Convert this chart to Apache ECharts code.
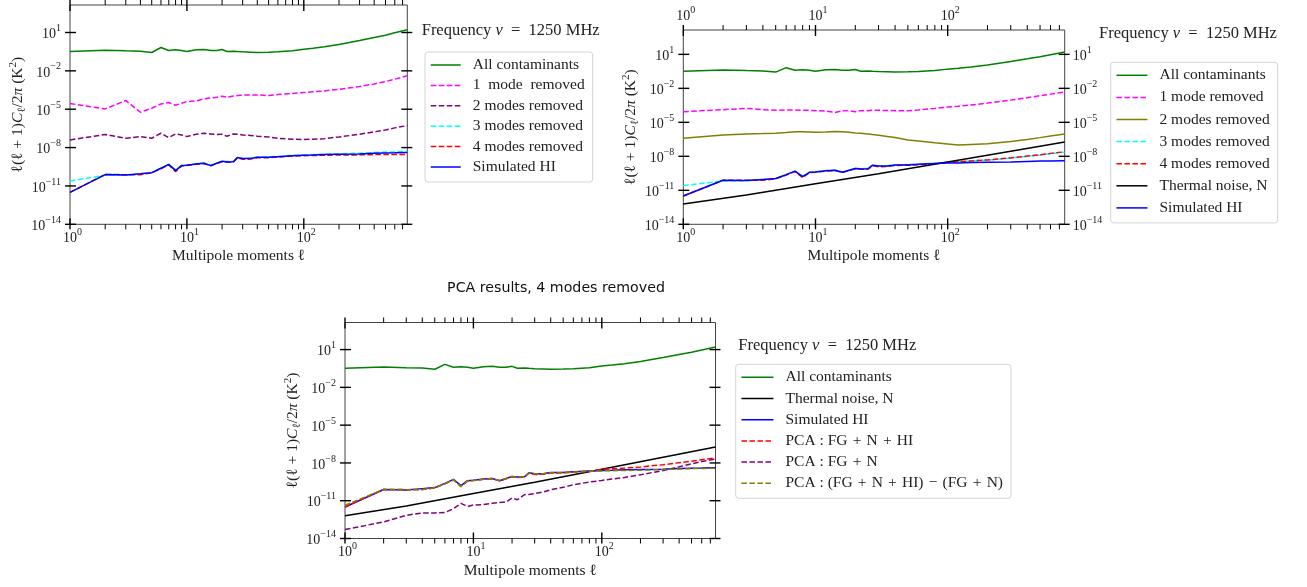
<!DOCTYPE html>
<html><head><meta charset="utf-8">
<script src="https://cdn.jsdelivr.net/npm/echarts@6/dist/echarts.min.js"></script>
<style>html,body{margin:0;padding:0;background:#fff}#c{width:1307px;height:587px}</style>
</head><body><div id="c"></div>
<script>
// ---------------- data ----------------
const ell = [1,2,3,4,5,6,7,8,9,10,12,14,16,18,20,22,25,27,30,35,40,50,60,80,100,120,150,200,300,400,500,600,768];

const allContaminants = [0.326,0.414,0.367,0.346,0.272,0.670,0.390,0.440,0.390,0.326,0.440,0.467,0.390,0.390,0.467,0.326,0.346,0.326,0.307,0.289,0.272,0.289,0.307,0.367,0.497,0.594,0.755,1.15,2.37,4.06,6.18,9.42,16.2];
const simulatedHI = [3.16e-12,7.76e-11,7.24e-11,9.12e-11,1.10e-10,2.40e-10,4.90e-10,1.58e-10,3.89e-10,4.17e-10,5.25e-10,5.89e-10,3.89e-10,5.89e-10,8.51e-10,7.59e-10,7.94e-10,1.66e-9,1.38e-9,1.38e-9,1.74e-9,1.74e-9,1.95e-9,2.34e-9,2.51e-9,2.63e-9,2.82e-9,3.02e-9,3.16e-9,3.55e-9,3.80e-9,3.89e-9,4.07e-9];

// panel 1 (no noise)
const mode1NoNoise = [2.77e-5,1.06e-5,4.76e-5,5.82e-6,1.20e-5,2.61e-5,3.32e-5,2.06e-5,2.94e-5,3.98e-5,4.47e-5,6.46e-5,7.76e-5,8.71e-5,1.05e-4,8.71e-5,1.10e-4,1.17e-4,1.26e-4,1.32e-4,1.32e-4,1.17e-4,1.41e-4,1.70e-4,2.00e-4,2.29e-4,2.69e-4,3.63e-4,5.89e-4,9.55e-4,1.45e-3,2.24e-3,4.07e-3];
const mode2NoNoise = [3.98e-8,1.05e-7,5.37e-8,7.24e-8,5.37e-8,1.32e-7,6.03e-8,1.17e-7,9.77e-8,7.24e-8,1.10e-7,1.32e-7,1.17e-7,1.05e-7,1.10e-7,7.76e-8,1.17e-7,1.10e-7,9.77e-8,8.71e-8,7.76e-8,6.76e-8,5.37e-8,4.47e-8,4.27e-8,4.47e-8,5.01e-8,6.76e-8,1.10e-7,1.70e-7,2.40e-7,3.47e-7,5.25e-7];
const mode3NoNoise = [2.45e-11,6.76e-11,7.08e-11,8.71e-11,1.07e-10,2.51e-10,4.68e-10,1.82e-10,3.98e-10,4.37e-10,5.50e-10,6.17e-10,4.17e-10,6.17e-10,8.71e-10,8.32e-10,8.51e-10,1.58e-9,1.45e-9,1.48e-9,1.82e-9,1.86e-9,2.04e-9,2.45e-9,2.63e-9,2.82e-9,3.02e-9,3.31e-9,3.63e-9,4.07e-9,4.47e-9,4.68e-9,5.01e-9];
const mode4NoNoise = [3.16e-12,7.94e-11,7.59e-11,7.59e-11,1.05e-10,2.19e-10,4.57e-10,1.32e-10,3.55e-10,3.98e-10,5.01e-10,5.62e-10,3.80e-10,5.62e-10,7.94e-10,7.08e-10,7.41e-10,1.51e-9,1.20e-9,1.26e-9,1.58e-9,1.62e-9,1.82e-9,2.19e-9,2.34e-9,2.40e-9,2.51e-9,2.63e-9,2.69e-9,2.82e-9,2.88e-9,2.88e-9,2.95e-9];

// panel 2 (with noise)
const mode1Noise = [8.71e-5,1.32e-4,1.70e-4,1.32e-4,1.15e-4,1.23e-4,1.23e-4,1.15e-4,1.15e-4,1.07e-4,1.00e-4,7.41e-5,1.07e-4,1.02e-4,8.71e-5,1.07e-4,1.07e-4,1.15e-4,1.15e-4,1.10e-4,1.07e-4,1.07e-4,1.23e-4,1.70e-4,2.24e-4,2.69e-4,3.39e-4,5.01e-4,9.12e-4,1.48e-3,2.24e-3,3.09e-3,4.68e-3];
const mode2Noise = [3.98e-7,7.76e-7,9.55e-7,1.02e-6,1.10e-6,1.26e-6,1.48e-6,1.48e-6,1.41e-6,1.35e-6,1.41e-6,1.55e-6,1.45e-6,1.32e-6,1.17e-6,1.07e-6,9.33e-7,8.32e-7,7.24e-7,5.75e-7,4.57e-7,2.82e-7,2.29e-7,1.58e-7,1.23e-7,1.00e-7,1.12e-7,1.29e-7,2.00e-7,3.02e-7,4.47e-7,6.31e-7,9.55e-7];
const mode3Noise = [2.63e-11,6.76e-11,7.08e-11,8.71e-11,1.07e-10,2.51e-10,4.68e-10,1.82e-10,3.98e-10,4.37e-10,5.50e-10,6.17e-10,4.17e-10,6.17e-10,8.71e-10,8.32e-10,8.51e-10,1.58e-9,1.45e-9,1.48e-9,1.82e-9,1.86e-9,2.04e-9,2.45e-9,3.02e-9,3.31e-9,3.80e-9,4.68e-9,6.92e-9,1.00e-8,1.32e-8,1.70e-8,2.34e-8];
const mode4Noise = [3.16e-12,7.94e-11,7.59e-11,7.59e-11,1.05e-10,2.19e-10,4.57e-10,1.32e-10,3.55e-10,3.98e-10,5.01e-10,5.62e-10,3.80e-10,5.62e-10,7.94e-10,7.08e-10,7.41e-10,1.51e-9,1.20e-9,1.26e-9,1.58e-9,1.62e-9,1.82e-9,2.19e-9,3.02e-9,3.39e-9,3.89e-9,4.79e-9,7.24e-9,1.05e-8,1.38e-8,1.82e-8,2.51e-8];

const noiseEll = [1,3,10,30,100,300,768];
const thermalNoise = [6.3e-13,3.8e-12,3.8e-11,2.9e-10,3.1e-9,2.8e-8,1.85e-7];

// panel 3 (PCA)
const pcaFgNHI = mode4Noise;
const pcaFgN = [5.13e-14,2.09e-13,6.92e-13,1.07e-12,1.07e-12,1.15e-12,2.34e-12,6.17e-12,3.39e-12,4.57e-12,4.90e-12,6.17e-12,7.08e-12,7.94e-12,1.66e-11,1.20e-11,3.02e-11,3.16e-11,3.63e-11,5.01e-11,7.41e-11,1.15e-10,1.86e-10,3.02e-10,4.07e-10,5.25e-10,7.08e-10,1.15e-9,2.51e-9,4.90e-9,8.51e-9,1.29e-8,2.00e-8];
const pcaDiff = [4.37e-12,7.94e-11,7.59e-11,7.94e-11,1.05e-10,2.29e-10,4.68e-10,1.38e-10,3.80e-10,4.07e-10,5.01e-10,5.75e-10,3.98e-10,5.75e-10,8.32e-10,7.59e-10,7.94e-10,1.58e-9,1.38e-9,1.38e-9,1.66e-9,1.74e-9,1.86e-9,2.19e-9,2.34e-9,2.40e-9,2.51e-9,2.63e-9,3.02e-9,3.31e-9,3.55e-9,3.63e-9,3.80e-9];

// axes / ticks
const xMin = 1, xMax = 768;
const yMin = 1e-14, yMax = 1412.5;
const yTickStep = 3;           // decades between labelled y ticks
const xMajorTicks = [1,10,100];
const xMinorTicks = [2,3,4,5,6,7,8,9,20,30,40,50,60,70,80,90,200,300,400,500,600,700];
const yMajorTicks = [1e-14,1e-11,1e-8,1e-5,1e-2,1e1];

// ---------------- style ----------------
const SERIF = '"Liberation Serif", "DejaVu Serif", serif';
const TXT = '#222';
const C = {green:'#008000', magenta:'#ff00ff', purple:'#800080', cyan:'#00ffff', red:'#ff0000', blue:'#0000ff', black:'#000000', olive:'#808000'};
const DASH = [5.5, 2.5];
const LW = 1.5;
const SP = '\u2004'; // math-like spacing around binary operators

function powLabel(v) {
  const e = Math.round(Math.log10(v));
  return '{b|10}{e|' + (e < 0 ? '\u2212' + (-e) : String(e)) + '}';
}
function rich(padLeft) {
  return {
    b: {fontFamily: SERIF, fontSize: 14, lineHeight: 18, verticalAlign: 'bottom', color: TXT, padding: [0,0,0,padLeft]},
    e: {fontFamily: SERIF, fontSize: 10, lineHeight: 11, verticalAlign: 'top', color: TXT}
  };
}
const yName = '{t|ℓ(ℓ + 1)}{i|C}{s|ℓ}{t|/2}{i|π}{t| (K}{p|2}{t|)}';
const yNameRich = {
  t: {fontFamily: SERIF, fontSize: 15.5, lineHeight: 20, color: TXT},
  i: {fontFamily: SERIF, fontSize: 15.5, fontStyle: 'italic', lineHeight: 20, color: TXT},
  s: {fontFamily: SERIF, fontSize: 11, lineHeight: 12, verticalAlign: 'bottom', color: TXT},
  p: {fontFamily: SERIF, fontSize: 11, lineHeight: 12, verticalAlign: 'top', color: TXT}
};

function xAxis(grid, position, showLabel, name) {
  return {
    type: 'log', logBase: 10, gridIndex: grid, position: position, min: xMin, max: xMax,
    axisLine: {show: false}, axisTick: {show: false}, minorTick: {show: false}, splitLine: {show: false},
    axisLabel: {show: showLabel, margin: position === 'top' ? 7 : 3, showMaxLabel: false, formatter: powLabel, rich: rich(5)},
    name: name || '', nameLocation: 'middle', nameGap: 24,
    nameTextStyle: {fontFamily: SERIF, fontSize: 15.5, color: TXT}
  };
}
function yAxis(grid, position, showLabel, withName) {
  return {
    type: 'log', logBase: 10, gridIndex: grid, position: position, min: yMin, max: yMax, interval: yTickStep,
    axisLine: {show: false}, axisTick: {show: false}, minorTick: {show: false}, splitLine: {show: false},
    axisLabel: {show: showLabel, margin: position === 'right' ? 8 : 9, showMaxLabel: false, formatter: powLabel, rich: rich(0)},
    name: withName ? yName : '', nameLocation: 'middle', nameGap: 42,
    nameTextStyle: {rich: yNameRich, fontFamily: SERIF, fontSize: 15.5, color: TXT}
  };
}

function pairs(xs, ys) { return xs.map((x, i) => [x, ys[i]]); }
function line(name, xs, ys, color, dashed, xi, yi) {
  return {
    type: 'line', name: name, xAxisIndex: xi, yAxisIndex: yi, data: pairs(xs, ys),
    symbol: 'none', showSymbol: false, silent: true, clip: true,
    lineStyle: {color: color, width: LW, type: dashed ? DASH : 'solid'},
    itemStyle: {color: color}
  };
}

const OUT = 5, IN = 6, MINOR = 5;
function tickData() {
  const d = [];
  xMajorTicks.forEach(v => d.push([v, 1, 0]));
  xMinorTicks.forEach(v => d.push([v, 1, 1]));
  yMajorTicks.forEach(v => d.push([1, v, 2]));
  return d;
}
function renderTicks(params, api) {
  const cs = params.coordSys;
  const kind = api.value(2);
  const st = {stroke: '#000', lineWidth: kind === 1 ? 1 : 1.4};
  if (kind === 2) {
    const y = api.coord([1, api.value(1)])[1];
    return {type: 'group', children: [
      {type: 'line', shape: {x1: cs.x - OUT, y1: y, x2: cs.x + IN, y2: y}, style: st},
      {type: 'line', shape: {x1: cs.x + cs.width - IN, y1: y, x2: cs.x + cs.width + OUT, y2: y}, style: st}
    ]};
  }
  const x = api.coord([api.value(0), 1])[0];
  const inL = kind === 0 ? IN : 0, outL = kind === 0 ? OUT : MINOR;
  const yb = cs.y + cs.height, yt = cs.y;
  return {type: 'group', children: [
    {type: 'line', shape: {x1: x, y1: yb - inL, x2: x, y2: yb + outL}, style: st},
    {type: 'line', shape: {x1: x, y1: yt + inL, x2: x, y2: yt - outL}, style: st}
  ]};
}
function ticks(xi, yi) {
  return {type: 'custom', name: 'ticks' + xi, xAxisIndex: xi, yAxisIndex: yi, data: tickData(),
    encode: {x: 0, y: 1}, renderItem: renderTicks, silent: true, clip: false, z: 5};
}

function legend(left, top, gap, width, names) {
  return {
    orient: 'vertical', left: left, top: top, itemWidth: width, itemHeight: 14, itemGap: gap,
    padding: [5, 8, 7, 5], borderColor: '#d4d4d4', borderWidth: 1, borderRadius: 3, backgroundColor: '#fff',
    selectedMode: false, data: names, formatter: n => n.slice(2),
    itemStyle: {opacity: 0}, lineStyle: {width: 1.5},
    textStyle: {fontFamily: SERIF, fontSize: 15.5, color: TXT, lineHeight: 14, padding: [0, 0, 0, 7]}
  };
}

function freqTitle(x, y) {
  return {type: 'text', x: x, y: y, silent: true, style: {
    text: 'Frequency {i|ν}  =  1250 MHz', fill: TXT, font: '16.5px ' + SERIF, align: 'left', verticalAlign: 'middle',
    rich: {i: {fontFamily: SERIF, fontSize: 16.5, fontStyle: 'italic', fill: TXT}}
  }};
}

const n1 = ['a:All contaminants','a:1  mode  removed','a:2 modes removed','a:3 modes removed','a:4 modes removed','a:Simulated HI'];
const n2 = ['b:All contaminants','b:1 mode removed','b:2 modes removed','b:3 modes removed','b:4 modes removed','b:Thermal noise, N','b:Simulated HI'];
const n3 = ['c:All contaminants','c:Thermal noise, N','c:Simulated HI',
  'c:PCA : FG' + SP + '+' + SP + 'N' + SP + '+' + SP + 'HI',
  'c:PCA : FG' + SP + '+' + SP + 'N',
  'c:PCA : (FG' + SP + '+' + SP + 'N' + SP + '+' + SP + 'HI)' + SP + '\u2212' + SP + '(FG' + SP + '+' + SP + 'N)'];

const gridStyle = {show: true, borderColor: '#444', borderWidth: 1, backgroundColor: 'transparent'};
const option = {
  animation: false,
  grid: [
    Object.assign({left: 70, top: 5, width: 337.3, height: 219.3}, gridStyle),
    Object.assign({left: 683.3, top: 30, width: 381.4, height: 194.3}, gridStyle),
    Object.assign({left: 345, top: 322.5, width: 370.5, height: 216}, gridStyle)
  ],
  xAxis: [
    xAxis(0, 'bottom', true, 'Multipole moments ℓ'),
    xAxis(1, 'bottom', true, 'Multipole moments ℓ'),
    xAxis(1, 'top', true),
    xAxis(2, 'bottom', true, 'Multipole moments ℓ')
  ],
  yAxis: [
    yAxis(0, 'left', true, true),
    yAxis(1, 'left', true, true),
    yAxis(1, 'right', true, false),
    yAxis(2, 'left', true, true)
  ],
  legend: [
    legend(425, 52, 4.4, 30, n1),
    legend(1110.7, 62.3, 6.1, 31, n2),
    legend(735.7, 364.3, 5.2, 32, n3)
  ],
  graphic: [
    freqTitle(421.7, 30.7),
    freqTitle(1099, 33.3),
    freqTitle(738.3, 346),
    {type: 'text', x: 556, y: 288, silent: true, style: {text: 'PCA results, 4 modes removed', fill: '#111',
      font: '14.2px "DejaVu Sans", sans-serif', align: 'center', verticalAlign: 'middle'}}
  ],
  series: [
    // panel 1
    line(n1[0], ell, allContaminants, C.green, false, 0, 0),
    line(n1[1], ell, mode1NoNoise, C.magenta, true, 0, 0),
    line(n1[2], ell, mode2NoNoise, C.purple, true, 0, 0),
    line(n1[3], ell, mode3NoNoise, C.cyan, true, 0, 0),
    line(n1[4], ell, mode4NoNoise, C.red, true, 0, 0),
    line(n1[5], ell, simulatedHI, C.blue, false, 0, 0),
    ticks(0, 0),
    // panel 2
    line(n2[0], ell, allContaminants, C.green, false, 1, 1),
    line(n2[1], ell, mode1Noise, C.magenta, true, 1, 1),
    line(n2[2], ell, mode2Noise, C.olive, false, 1, 1),
    line(n2[3], ell, mode3Noise, C.cyan, true, 1, 1),
    line(n2[4], ell, mode4Noise, C.red, true, 1, 1),
    line(n2[5], noiseEll, thermalNoise, C.black, false, 1, 1),
    line(n2[6], ell, simulatedHI, C.blue, false, 1, 1),
    ticks(1, 1),
    // panel 3
    line(n3[0], ell, allContaminants, C.green, false, 3, 3),
    line(n3[1], noiseEll, thermalNoise, C.black, false, 3, 3),
    line(n3[2], ell, simulatedHI, C.blue, false, 3, 3),
    line(n3[3], ell, pcaFgNHI, C.red, true, 3, 3),
    line(n3[4], ell, pcaFgN, C.purple, true, 3, 3),
    line(n3[5], ell, pcaDiff, C.olive, true, 3, 3),
    ticks(3, 3)
  ]
};
const chart = echarts.init(document.getElementById('c'), null, {renderer: 'canvas'});
chart.setOption(option);
</script>
</body></html>
